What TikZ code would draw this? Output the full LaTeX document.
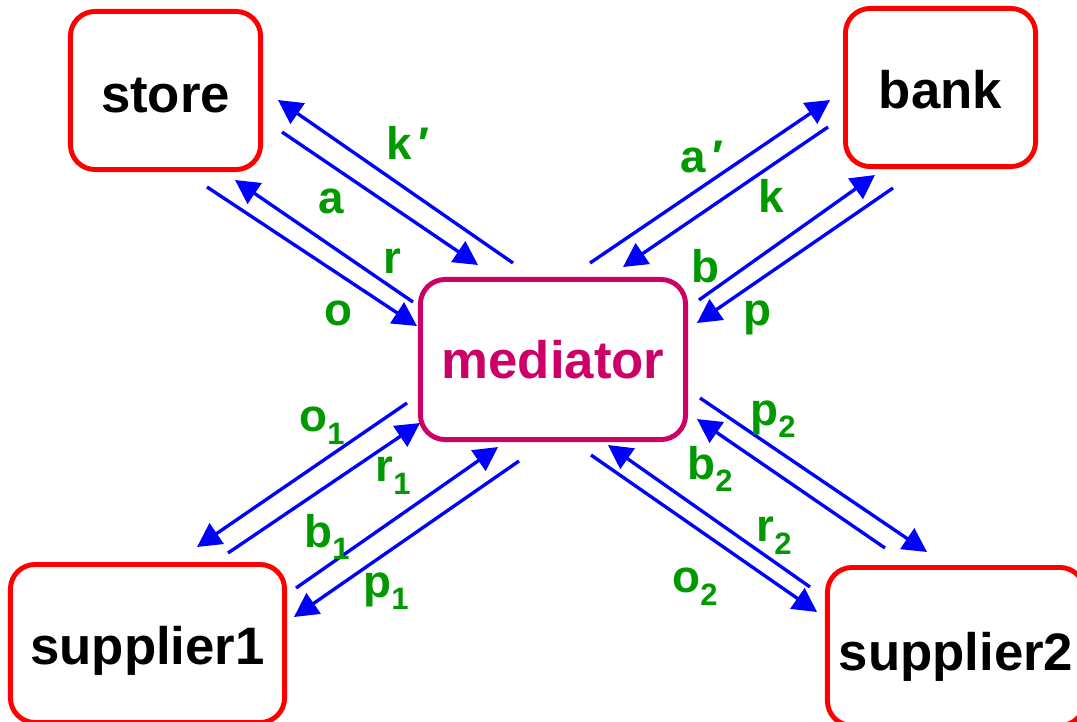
\documentclass[tikz,border=0pt]{standalone}
\usepackage{fontspec}
\setmainfont{Liberation Sans}
\usetikzlibrary{arrows.meta}
\definecolor{partyred}{RGB}{255,0,0}
\definecolor{hubred}{RGB}{204,0,102}
\definecolor{msgblue}{RGB}{0,0,255}
\definecolor{labgreen}{RGB}{0,153,0}
\newcommand{\sbs}[1]{\raisebox{-3.6pt}{\fontsize{8.8}{9}\selectfont #1}}
\newcommand{\prm}{\kern1.8pt′}
\newcommand{\lowtext}[2]{\raisebox{-#1}[\height][\depth]{#2}}
\tikzset{
  party/.style={draw=partyred, line width=1.4pt, rounded corners=7pt,
    minimum width=1.9cm, minimum height=1.58cm, inner sep=0pt,
    font=\fontsize{15}{18}\selectfont\bfseries},
  hub/.style={party, draw=hubred, text=hubred,
    minimum width=2.65cm, minimum height=1.6cm},
  msg/.style={draw=msgblue, line width=0.95pt, -{Triangle[length=6.8pt,width=7pt]}},
  lbl/.style={text=labgreen, inner sep=0pt, font=\fontsize{13}{15}\selectfont\bfseries},
}
\begin{document}
\begin{tikzpicture}[x=0.01cm, y=-0.01cm]
  \useasboundingbox (0,0) rectangle (1077,721);
  % parties
  \node[party] (store) at (165.5,90.5) {\lowtext{1.3pt}{store}};
  \node[party] (bank) at (940.5,87.5) {\lowtext{0.5pt}{bank}};
  \node[hub] (mediator) at (553,359.5) {mediator};
  \node[party, minimum width=2.74cm] (supplierA) at (147.5,643.5) {\lowtext{2.2pt}{supplier1}};
  \node[party, minimum width=2.57cm] (supplierB) at (956,646.5) {\lowtext{2.8pt}{supplier2}};
  % store <-> mediator
  \coordinate (sm1) at (513,263); \coordinate (ss1) at (278,100);
  \coordinate (ss2) at (282,132); \coordinate (sm2) at (478,265);
  \coordinate (sm3) at (413,302); \coordinate (ss3) at (235,180);
  \coordinate (ss4) at (207,187); \coordinate (sm4) at (417,326);
  \draw[msg] (sm1) -- (ss1);
  \draw[msg] (ss2) -- (sm2);
  \draw[msg] (sm3) -- (ss3);
  \draw[msg] (ss4) -- (sm4);
  \node[lbl] (kprime) at (408,143) {k\prm};
  \node[lbl] (a) at (331,201) {a};
  \node[lbl] (r) at (392,261) {r};
  \node[lbl] (o) at (338,313) {o};
  % bank <-> mediator
  \coordinate (bm1) at (590,263); \coordinate (bb1) at (830,100);
  \coordinate (bb2) at (828,127); \coordinate (bm2) at (623,267);
  \coordinate (bm3) at (699,300); \coordinate (bb3) at (875,175);
  \coordinate (bb4) at (893,188); \coordinate (bm4) at (697,323);
  \draw[msg] (bm1) -- (bb1);
  \draw[msg] (bb2) -- (bm2);
  \draw[msg] (bm3) -- (bb3);
  \draw[msg] (bb4) -- (bm4);
  \node[lbl] (aprime) at (702,157) {a\prm};
  \node[lbl] (k) at (771,196) {k};
  \node[lbl] (b) at (705,266) {b};
  \node[lbl] (p) at (757,318) {p};
  % supplier1 <-> mediator
  \coordinate (am1) at (407,403); \coordinate (aa1) at (197,547);
  \coordinate (aa2) at (228,553); \coordinate (am2) at (420,423);
  \coordinate (aa3) at (296,588); \coordinate (am3) at (498,447);
  \coordinate (am4) at (519,461); \coordinate (aa4) at (294,617);
  \draw[msg] (am1) -- (aa1);
  \draw[msg] (aa2) -- (am2);
  \draw[msg] (aa3) -- (am3);
  \draw[msg] (am4) -- (aa4);
  \node[lbl] (o1) at (322,426) {o\sbs{1}};
  \node[lbl] (r1) at (393,476) {r\sbs{1}};
  \node[lbl] (b1) at (327,537) {b\sbs{1}};
  \node[lbl] (p1) at (386,591) {p\sbs{1}};
  % supplier2 <-> mediator
  \coordinate (cm1) at (700,398); \coordinate (cc1) at (927,552);
  \coordinate (cc2) at (885,548); \coordinate (cm2) at (697,419);
  \coordinate (cc3) at (810,587); \coordinate (cm3) at (608,445);
  \coordinate (cm4) at (591,455); \coordinate (cc4) at (817,612);
  \draw[msg] (cm1) -- (cc1);
  \draw[msg] (cc2) -- (cm2);
  \draw[msg] (cc3) -- (cm3);
  \draw[msg] (cm4) -- (cc4);
  \node[lbl] (p2) at (773,419) {p\sbs{2}};
  \node[lbl] (b2) at (710,469) {b\sbs{2}};
  \node[lbl] (r2) at (774,536) {r\sbs{2}};
  \node[lbl] (o2) at (695,587) {o\sbs{2}};
\end{tikzpicture}
\end{document}
